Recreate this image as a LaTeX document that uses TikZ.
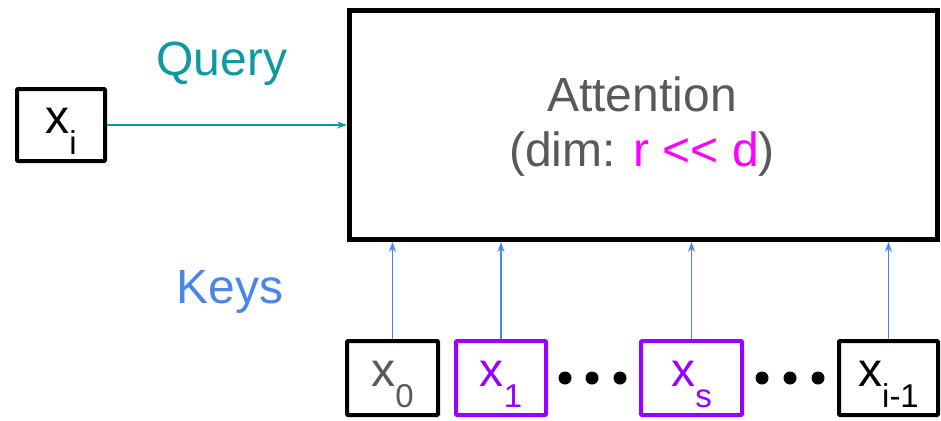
\documentclass[tikz,border=0pt]{standalone}
\usepackage{fontspec}
\setmainfont{Liberation Sans}
\usetikzlibrary{arrows.meta}
\definecolor{querycol}{RGB}{16,152,163}
\definecolor{keycol}{RGB}{74,134,232}
\definecolor{txtgray}{RGB}{89,89,89}
\definecolor{pinkcol}{RGB}{255,0,255}
\definecolor{purplecol}{RGB}{153,0,255}
\newcommand{\vsub}[2]{#1\raisebox{-0.45em}{\fontsize{33}{33}\selectfont #2}}

\begin{document}
\begin{tikzpicture}[x=1pt,y=-1pt,
  txt/.style={font=\fontsize{48}{56}\selectfont,inner sep=0pt},
  tok/.style={draw,line width=4pt,rounded corners=1pt,minimum height=74pt,inner sep=0pt,
    text height=30pt,text depth=14pt,font=\fontsize{48}{56}\selectfont},
  link/.style={line width=1.2pt,-{Stealth[length=10pt,width=7pt]}}]

\useasboundingbox (0,0) rectangle (941,420);

\node[draw,line width=5pt,minimum width=588pt,minimum height=229pt] (att) at (643.5,125) {};
\node[txt,text=txtgray,align=center,font=\fontsize{48}{55}\selectfont] (atttxt) at (642,127)
  {Attention\\(dim: \textcolor{pinkcol}{r {<}{<} d})};

\node[tok,minimum width=88pt,minimum height=72pt] (xi) at (61,125) {\vsub{x}{i}};
\node[txt,text=querycol,anchor=base] (query) at (222,75) {Query};
\node[txt,text=keycol,anchor=base] (keys) at (230,303) {Keys};

\node[tok,minimum width=91pt,text=txtgray] (x0) at (392.5,378) {\vsub{x}{0}};
\node[tok,minimum width=90pt,draw=purplecol,text=purplecol] (x1) at (501,378) {\vsub{x}{1}};
\node[tok,minimum width=101pt,draw=purplecol,text=purplecol] (xs) at (691.5,378) {\vsub{x}{s}};
\node[tok,minimum width=99pt] (xlast) at (888.5,378) {\vsub{x}{i-1}};

\foreach \cx in {565,592,620,762,790,818}
  \fill (\cx,378) circle (6.5pt);

\draw[link,querycol] (xi.east) -- (att.west);
\foreach \k in {x0,x1,xs,xlast}
  \draw[link,keycol] (\k.north) -- (\k.north |- att.south);
\end{tikzpicture}
\end{document}
